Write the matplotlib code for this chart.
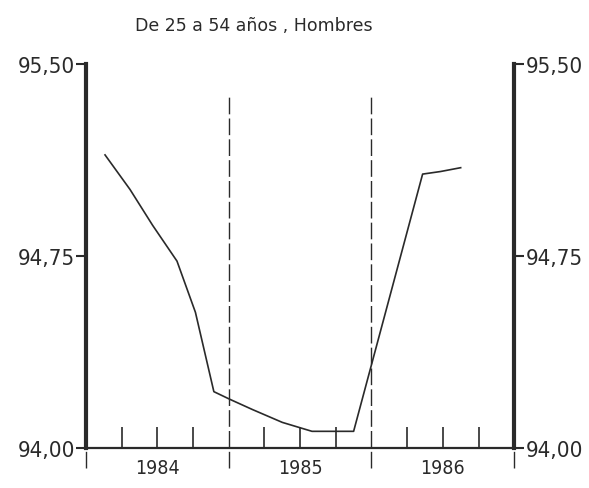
import matplotlib
matplotlib.use('Agg')
import matplotlib.pyplot as plt
from matplotlib import font_manager
import numpy as np

# datos (meses desde enero 1984, tasa)
meses = [1.6, 3.7, 5.6, 7.65, 9.2, 10.75, 12.1, 14.0, 16.5, 19.0, 22.5, 28.3, 29.8, 31.5]
tasa = [95.145, 95.01, 94.87, 94.73, 94.53, 94.22, 94.19, 94.15, 94.10, 94.065,
        94.065, 95.07, 95.08, 95.095]
anios = [1984, 1985, 1986]
yticks = [94.00, 94.75, 95.50]
ytick_labels = ['94,00', '94,75', '95,50']
titulo = 'De 25 a 54 años , Hombres'

x = 1984 + np.array(meses) / 12.0
ink = '#2a2a2a'

# fuente estrecha para los numeros si existe
fp = font_manager.FontProperties(family='DejaVu Sans', stretch='condensed')
cond = 'Condensed' in font_manager.findfont(fp, fallback_to_default=True)
if cond:
    num_kw = dict(family='DejaVu Sans', stretch='condensed')
    ysize, xsize = 16, 14
else:
    num_kw = dict(family='DejaVu Sans')
    ysize, xsize = 14, 12.5

fig = plt.figure(figsize=(5.89, 4.89), dpi=100)
ax = fig.add_axes([0.146, 0.040, 0.727, 0.827])
ax.set_xlim(1984, 1987)
ax.set_ylim(93.92, 95.5)

# spines
for s in ['top', 'bottom']:
    ax.spines[s].set_visible(False)
for s in ['left', 'right']:
    ax.spines[s].set_bounds(94.0, 95.5)
    ax.spines[s].set_linewidth(3)
    ax.spines[s].set_color(ink)

# eje x y divisiones de anio
ax.axhline(94.0, color=ink, lw=1.6)
ax.vlines([1984, 1985, 1986, 1987], 93.92, 95.38, colors=ink, lw=1.0,
          linestyles=(0, (12, 3)), clip_on=False)
trim = [a + q / 4 for a in anios for q in (1, 2, 3)]
ax.vlines(trim, 94.0, 94.08, colors=ink, lw=1.2)

ax.plot(x, tasa, color=ink, lw=1.2)

ax.set_xticks([])
ax.set_yticks(yticks)
ax.set_yticklabels(ytick_labels, fontsize=ysize, color=ink, **num_kw)
ax.tick_params(axis='y', direction='out', length=7, width=1.5, colors=ink,
               left=True, right=True, labelleft=True, labelright=True, pad=1)

for a in anios:
    ax.text(a + 0.5, 93.925, str(a), ha='center', va='center', fontsize=xsize,
            color=ink, clip_on=False, **num_kw)

fig.text(135 / 589, 1 - 26 / 489, titulo, ha='left', va='center', fontsize=12.5,
         color=ink)

fig.savefig('out.png', dpi=100)
